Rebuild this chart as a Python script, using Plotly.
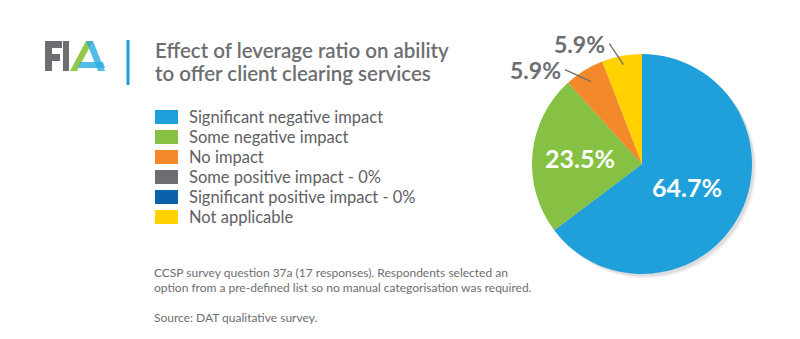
import math
import plotly.graph_objects as go

# ---------------- data ----------------
categories = [
    "Significant negative impact",
    "Some negative impact",
    "No impact",
    "Some positive impact - 0%",
    "Significant positive impact - 0%",
    "Not applicable",
]
responses = [11, 4, 1, 0, 0, 1]
colors = ["#1FA0DB", "#86C143", "#F4892B", "#6D6E71", "#0B62AC", "#FFD200"]
title_lines = ["Effect of leverage ratio on ability", "to offer client clearing services"]
footnotes = [
    "CCSP survey question 37a (17 responses). Respondents selected an",
    "option from a pre-defined list so no manual categorisation was required.",
    "Source: DAT qualitative survey.",
]

W, H = 800, 339
GRAY = "#6D6E71"
FONT = "Lato"


def px(x):
    return x / W


def py(y):
    return 1 - y / H


fig = go.Figure()

# pie geometry (pixels)
cx, cy, R = 642, 164, 110
dom_x = [px(cx - R), px(cx + R)]
dom_y = [py(cy + R), py(cy - R)]

# soft shadow
for off, alpha in [(4, 0.06), (2.5, 0.08)]:
    fig.add_trace(go.Pie(
        values=[1], marker=dict(colors=[f"rgba(0,0,0,{alpha})"], line=dict(width=0)),
        domain=dict(x=[px(cx - R + off), px(cx + R + off)], y=[py(cy + R + off), py(cy - R + off)]),
        textinfo="none", hoverinfo="skip", showlegend=False, sort=False,
    ))

fig.add_trace(go.Pie(
    labels=categories, values=responses, sort=False, direction="clockwise", rotation=0,
    marker=dict(colors=colors, line=dict(width=0)),
    domain=dict(x=dom_x, y=dom_y), textinfo="none", showlegend=False,
))

shapes = []
annotations = []

# slice labels
total = sum(responses)
cum = 0
label_cfg = {
    0: dict(kind="in", rf=0.46),
    1: dict(kind="in", rf=0.57),
    2: dict(kind="out", rf=0.88, off=(-26, -12)),
    5: dict(kind="out", rf=0.92, off=(-14, -21)),
}
for i, v in enumerate(responses):
    if v > 0:
        mid = (cum + v / 2) / total * 2 * math.pi
        pct = f"{100 * v / total:.1f}%"
        cfg = label_cfg[i]
        r = cfg["rf"] * R
        x0 = cx + r * math.sin(mid)
        y0 = cy - r * math.cos(mid)
        if cfg["kind"] == "in":
            annotations.append(dict(x=px(x0), y=py(y0), xref="paper", yref="paper", text=f"<b>{pct}</b>",
                                    showarrow=False, font=dict(family=FONT, size=25, color="white"),
                                    xanchor="center", yanchor="middle"))
        else:
            x1, y1 = x0 + cfg["off"][0], y0 + cfg["off"][1]
            shapes.append(dict(type="line", xref="paper", yref="paper", x0=px(x0), y0=py(y0),
                               x1=px(x1), y1=py(y1), line=dict(color=GRAY, width=1.3)))
            annotations.append(dict(x=px(x1 - 2), y=py(y1), xref="paper", yref="paper", text=f"<b>{pct}</b>",
                                    showarrow=False, font=dict(family=FONT, size=23, color=GRAY),
                                    xanchor="right", yanchor="middle"))
    cum += v

# custom legend
for k, (name, col) in enumerate(zip(categories, colors)):
    yc = 117 + 20 * k
    shapes.append(dict(type="rect", xref="paper", yref="paper", x0=px(155), x1=px(178),
                       y0=py(yc - 7), y1=py(yc + 7), fillcolor=col, line=dict(width=0)))
    annotations.append(dict(x=px(187), y=py(yc), xref="paper", yref="paper", text=name, showarrow=False,
                            font=dict(family=FONT, size=16.5, color="#5F6064"), xanchor="left", yanchor="middle"))

# title
for k, line in enumerate(title_lines):
    annotations.append(dict(x=px(153), y=py(50 + 23 * k), xref="paper", yref="paper", text=line,
                            showarrow=False, font=dict(family=FONT, size=20.5, color=GRAY, weight=600),
                            xanchor="left", yanchor="middle"))

# footnotes
for k, (line, yy) in enumerate(zip(footnotes, [272, 287, 317])):
    annotations.append(dict(x=px(152), y=py(yy), xref="paper", yref="paper", text=line, showarrow=False,
                            font=dict(family=FONT, size=12, color=GRAY), xanchor="left", yanchor="middle"))

# divider line
shapes.append(dict(type="line", xref="paper", yref="paper", x0=px(128), x1=px(128), y0=py(40), y1=py(85),
                   line=dict(color="#1FA0DB", width=3)))


# FIA logo
def path(pts):
    return "M " + " L ".join(f"{px(x)},{py(y)}" for x, y in pts) + " Z"


logo = [
    ([(45, 41), (62, 41), (62, 48), (52, 48), (52, 54), (60, 54), (60, 61), (52, 61), (52, 71), (45, 71)], GRAY, 1),
    ([(63, 41), (69, 41), (69, 71), (63, 71)], GRAY, 1),
    ([(70, 71), (77, 71), (93, 41), (86, 41)], "#8DC63F", 0.95),
    ([(86, 41), (93, 41), (105, 71), (98, 71)], "#29ABE2", 0.8),
    ([(80, 62), (103, 62), (105, 68), (78, 68)], "#29ABE2", 0.8),
]
for pts, col, op in logo:
    shapes.append(dict(type="path", xref="paper", yref="paper", path=path(pts), fillcolor=col,
                       opacity=op, line=dict(width=0)))

fig.update_layout(
    width=W, height=H, margin=dict(l=0, r=0, t=0, b=0),
    paper_bgcolor="white", plot_bgcolor="white",
    shapes=shapes, annotations=annotations, showlegend=False,
)

fig.write_html("out.html")
